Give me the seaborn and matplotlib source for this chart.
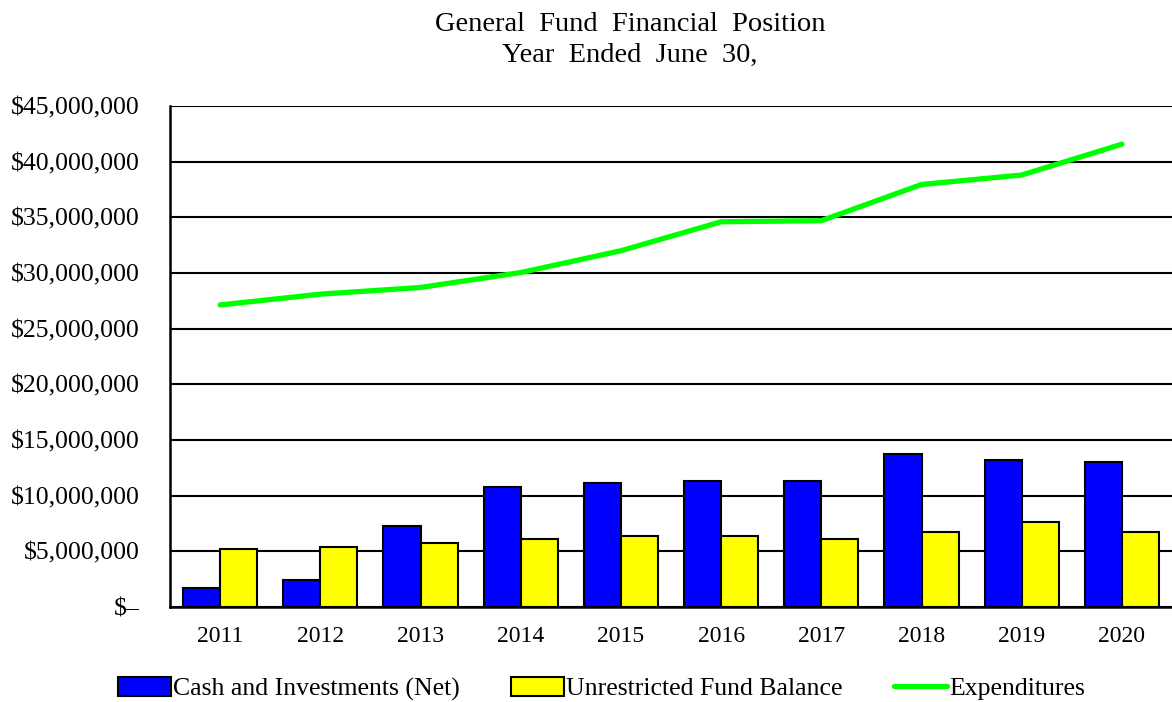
import numpy as np
import pandas as pd
import matplotlib
matplotlib.use("Agg")
import matplotlib.pyplot as plt
import seaborn as sns
from matplotlib.ticker import FuncFormatter, FixedLocator

# Values (dollars)
years = ["2011", "2012", "2013", "2014", "2015", "2016", "2017", "2018", "2019", "2020"]
cash_investments = [1.73e6, 2.40e6, 7.28e6, 10.78e6, 11.14e6, 11.29e6, 11.29e6, 13.75e6, 13.20e6, 13.03e6]
unrestricted_balance = [5.18e6, 5.36e6, 5.72e6, 6.08e6, 6.41e6, 6.41e6, 6.08e6, 6.74e6, 7.64e6, 6.74e6]
expenditures = [27.13e6, 28.10e6, 28.70e6, 30.04e6, 32.00e6, 34.60e6, 34.70e6, 37.95e6, 38.80e6, 41.57e6]

bar_names = ["Cash and Investments (Net)", "Unrestricted Fund Balance"]

sns.set_style("white")
plt.rcParams["font.family"] = ["Liberation Serif", "DejaVu Serif"]
plt.rcParams.update({"text.color": "black", "xtick.color": "black",
                     "ytick.color": "black", "axes.labelcolor": "black"})

bars_df = pd.DataFrame({
    "Year": years * 2,
    "Series": [bar_names[0]] * len(years) + [bar_names[1]] * len(years),
    "Value": cash_investments + unrestricted_balance,
})

fig = plt.figure(figsize=(11.72, 7.02), dpi=100)
ax = fig.add_axes([170 / 1172, 95 / 702, 1002 / 1172, 501 / 702])

sns.barplot(data=bars_df, x="Year", y="Value", hue="Series", order=years,
            hue_order=bar_names, palette=["#0000FF", "#FFFF00"],
            width=0.74, edgecolor="black", linewidth=1.5, saturation=1, ax=ax)
ax.set_axisbelow(True)

sns.lineplot(x=np.arange(len(years)), y=expenditures, color="#00FF00",
             linewidth=3.8, label="Expenditures", ax=ax)
for ln in ax.get_lines():
    ln.set_solid_capstyle("round")

ax.set_xlim(-0.5, 9.5)
ax.set_ylim(0, 45e6)
ax.yaxis.set_major_locator(FixedLocator(np.arange(0, 45e6 + 1, 5e6)))
ax.yaxis.set_major_formatter(FuncFormatter(
    lambda v, p: "$\u2013" if v == 0 else f"${v:,.0f}"))
ax.grid(axis="y", color="black", linewidth=1.5)
ax.set_xlabel("")
ax.set_ylabel("")

ax.set_xticks(np.arange(len(years)))
ax.set_xticklabels(years)
ax.set_xticks(np.arange(0.5, len(years) - 0.5, 1), minor=True)
ax.tick_params(axis="x", which="major", length=0, pad=14, labelsize=17, labelcolor="black")
ax.tick_params(axis="x", which="minor", length=5, width=1.2, color="black", direction="out")
ax.tick_params(axis="y", length=0, pad=22, labelsize=18.5, labelcolor="black")

for side in ["left", "bottom"]:
    ax.spines[side].set_color("black")
    ax.spines[side].set_linewidth(1.8)
ax.spines["top"].set_visible(False)
ax.spines["right"].set_visible(False)

handles, labels = ax.get_legend_handles_labels()
ax.get_legend().remove()
fig.legend(handles, labels, loc="center", bbox_to_anchor=(0.513, 0.0185), ncol=3,
           frameon=False, fontsize=18.5, handlelength=2.06, handletextpad=0.08,
           columnspacing=2.0, handleheight=0.75, labelcolor="black")

fig.text(0.5375, 0.983, "General  Fund  Financial  Position\nYear  Ended  June  30,",
         ha="center", va="top", fontsize=20.5, linespacing=1.3, color="black")

fig.savefig("out.png", dpi=100)
